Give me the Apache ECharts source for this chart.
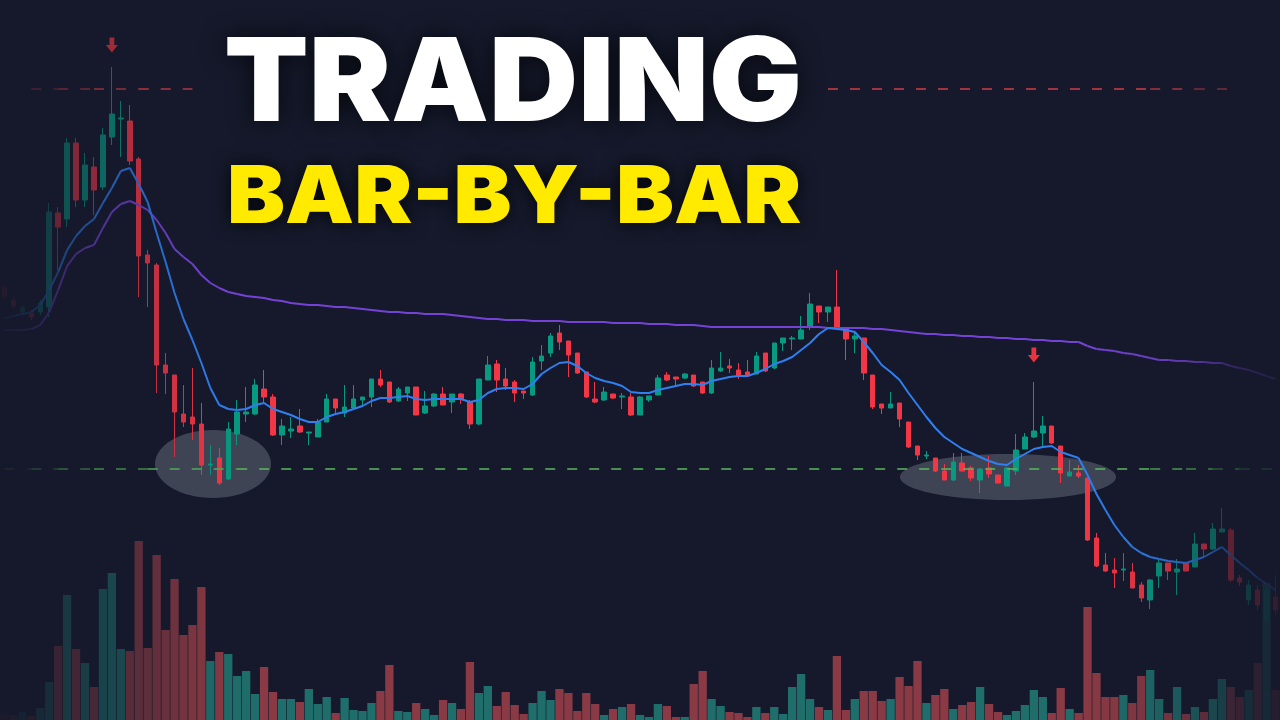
<!DOCTYPE html>
<html>
<head>
<meta charset="utf-8">
<script src="https://cdn.jsdelivr.net/npm/echarts@6/dist/echarts.min.js"></script>
<style>
html,body{margin:0;padding:0;background:#15192b;overflow:hidden;}
#chart{width:1280px;height:720px;}
</style>
</head>
<body>
<div id="chart"></div>
<script>
// Candles: [open, close, low, high] (price units)
const candles = [
[433,423,420,436],[420,414,411,423],[408,412,405,415],[407,403,400,410],[408,417,405,420],
[413,508,403,517],[507,493,450,513],[501,577,493,582],[577,520,513,582],[520,555,513,567],
[553,530,505,563],[533,585,530,592],[583,606,575,653],[601,602,563,619],[599,559,555,615],
[561,464,423,563],[465,457,413,470],[455,355,327,457],[355,347,326,367],[345,308,263,345],
[306,298,293,335],[303,296,280,352],[296,255,245,317],[255,256,245,275],[262,237,235,272],
[241,291,240,298],[286,308,275,320],[306,308,298,333],[306,335,305,341],[331,323,318,350],
[323,285,284,326],[285,294,275,301],[289,291,282,303],[294,288,287,311],[287,288,275,288],
[283,298,283,301],[298,321,298,326],[321,312,305,321],[307,313,303,335],[312,321,310,335],
[320,323,315,323],[323,341,313,341],[341,335,333,350],[338,318,317,338],[319,331,318,333],
[327,333,319,333],[333,305,305,333],[307,314,306,329],[314,326,313,327],[326,315,315,333],
[318,326,307,326],[326,321,316,327],[318,296,291,320],[296,341,295,341],[340,355,340,364],
[356,340,328,360],[341,334,330,352],[338,327,318,340],[329,327,321,329],[325,358,324,363],
[359,364,350,375],[367,384,363,387],[387,378,370,395],[379,365,343,379],[367,347,346,367],
[348,323,322,348],[321,318,317,338],[320,328,319,333],[326,322,321,326],[323,324,311,327],
[323,305,304,327],[305,323,305,324],[320,324,318,324],[325,342,325,345],[345,340,339,348],
[343,341,334,343],[342,346,341,347],[345,334,333,345],[338,327,326,338],[327,352,326,360],
[349,352,348,368],[354,352,347,361],[350,344,341,357],[348,344,344,360],[346,364,346,368],
[367,349,348,367],[352,377,351,377],[377,382,369,382],[381,382,370,384],[381,390,381,404],
[393,416,390,427],[414,408,397,414],[408,413,398,413],[413,393,392,450],[391,381,360,391],
[381,384,367,387],[382,347,340,382],[345,313,311,345],[316,312,306,316],[312,316,312,328],
[317,301,293,317],[298,273,272,298],[274,265,260,274],[264,265,261,269],[262,249,248,262],
[249,240,240,256],[240,258,239,267],[257,249,249,267],[252,242,239,254],[240,251,227,252],
[252,246,242,264],[245,237,237,245],[234,252,234,253],[249,270,245,286],[271,283,271,287],
[283,289,282,338],[287,294,274,304],[294,277,276,294],[274,247,237,274],[244,248,244,260],
[247,244,242,255],[242,180,179,242],[182,154,153,187],[155,149,148,167],[150,147,132,162],
[150,151,139,167],[148,132,132,157],[135,122,118,138],[120,140,111,141],[144,157,132,160],
[157,149,140,157],[148,151,125,161],[157,149,149,158],[153,176,153,187],[176,171,163,176],
[171,191,170,197],[188,191,188,212],[190,140,138,192],[142,138,134,145],[120,135,115,140],
[130,115,110,135],[100,130,95,135],[123,110,105,145]
];

const volumes = [
6,5,8,4,12,38,74,125,71,57,33,131,147,71,69,179,72,165,90,141,
85,95,133,59,68,66,44,49,26,53,28,21,21,18,31,16,23,7,22,10,
9,17,29,55,9,8,17,11,5,20,17,11,58,27,34,14,28,15,6,17,
29,20,31,27,9,27,16,5,11,13,16,5,3,16,14,3,3,36,49,21,
14,8,7,3,13,7,13,6,33,46,21,13,10,64,10,21,29,29,19,21,
43,34,59,17,25,31,11,15,18,33,16,8,5,9,15,30,23,7,32,11,
7,113,47,23,23,25,17,44,50,21,7,33,6,13,8,21,41,33,23,30,
57,137,30
];

// Fast moving average (blue)
const fastMA = [
402,404,406,408,415,430,448,470,484,494,501,517,532,549,552,536,518,487,458,427,
401,380,357,332,315,311,310,311,315,317,311,308,305,301,298,298,303,306,308,311,
314,319,322,322,323,324,321,320,321,321,321,321,318,320,327,331,332,332,331,336,
346,352,357,358,354,347,342,339,337,334,328,327,327,330,332,334,336,336,335,339,
341,343,344,344,347,351,356,359,363,370,377,386,392,391,390,388,378,367,355,348,
340,327,315,303,292,283,277,271,267,263,259,256,255,261,266,271,273,274,268,265,
262,245,226,210,195,183,173,167,163,161,159,158,157,160,163,168,173,165,157,150,
142,136,130
];

// Slow moving average (purple)
const slowMA = [
390,390,390,391,395,408,430,454,466,472,475,492,508,516,519,515,510,500,487,471,
463,456,445,437,432,428,426,424,423,422,420,419,417,416,415,415,414,413,413,412,
411,410,409,408,408,407,407,406,406,406,405,404,403,402,401,401,400,400,400,399,
399,399,399,398,398,398,398,398,397,397,397,397,396,396,396,395,395,395,394,393,
393,393,393,393,393,393,393,393,393,393,393,393,392,392,392,392,392,391,391,390,
389,388,387,386,386,385,385,384,384,383,383,382,382,381,381,380,380,379,379,378,
378,374,371,370,369,367,366,364,362,360,360,359,359,358,358,357,357,354,352,350,
347,344,341
];

const supportLevel = 251;     // green dashed
const resistanceLevel = 631;  // red dashed
const signalBars = [12, 115]; // bars marked with red arrows
const signalPrices = [675, 365];

const categories = candles.map((_, i) => 'Bar ' + (i + 1));

// ---- styling ----
const UP = '#089981', DOWN = '#f23645';
const VOL_UP = '#1f6e6b', VOL_DOWN = '#8a3a44';
const BG = '#15192b';
const step = 8.977;
const gridLeft = 3 - step / 2;
const gridWidth = step * candles.length;

// edge vignette (visibility vs. screen x), a styling profile
const edgeVis = [[0,0.06],[30,0.15],[48,0.3],[66,0.45],[93,0.55],[111,0.66],[138,0.74],[174,0.85],
  [202,0.93],[240,1],[1080,1],[1150,0.88],[1188,0.72],[1206,0.6],[1215,0.54],[1233,0.32],[1260,0.2],[1280,0.14]];
const volExtraVis = [[0,0.8],[138,0.8],[200,0.97],[260,1],[1280,1]];
function edgeProfile(stops, x) {
  if (x <= stops[0][0]) return stops[0][1];
  for (let k = 1; k < stops.length; k++) {
    if (x <= stops[k][0]) {
      const x0 = stops[k - 1][0], a0 = stops[k - 1][1];
      const x1 = stops[k][0], a1 = stops[k][1];
      return a0 + (a1 - a0) * (x - x0) / (x1 - x0);
    }
  }
  return stops[stops.length - 1][1];
}
const xOf = i => 3 + step * i;
const vis = i => edgeProfile(edgeVis, xOf(i));
function hexRgb(h) { return [1, 3, 5].map(p => parseInt(h.substr(p, 2), 16)); }
const BG_RGB = hexRgb(BG);
// blend a colour toward the background (opaque result)
function mix(hex, t) {
  const c = hexRgb(hex);
  const r = c.map((v, k) => Math.round(BG_RGB[k] + (v - BG_RGB[k]) * t));
  return 'rgb(' + r.join(',') + ')';
}
const isUp = c => c[1] >= c[0];

function fadedLine(values, color, z) {
  const out = [];
  const lo = 26, hi = 120;
  out.push({
    type: 'line', xAxisIndex: 0, yAxisIndex: 0, z, showSymbol: false, silent: true,
    data: values.map((v, j) => (j >= lo && j <= hi) ? v : null),
    lineStyle: {color, width: 2}
  });
  for (let i = 0; i < values.length - 1; i++) {
    if (i >= lo && i < hi) continue;
    out.push({
      type: 'line', xAxisIndex: 0, yAxisIndex: 0, z, showSymbol: false, silent: true,
      data: values.map((v, j) => (j === i || j === i + 1) ? v : null),
      lineStyle: {color: mix(color, vis(i + 0.5)), width: 2}
    });
  }
  return out;
}

function dashedSeg(a, b, value, color) {
  const ls = {color: mix(color, vis((a + b) / 2)), width: 1.5, type: [10, 12]};
  return [{coord: [a, value], lineStyle: ls}, {coord: [b, value]}];
}
const GREEN_DASH = '#58b85e', RED_DASH = '#cf3d4a';
const markLines = [
  dashedSeg(0, 3, supportLevel, GREEN_DASH), dashedSeg(3, 6, supportLevel, GREEN_DASH),
  dashedSeg(6, 10, supportLevel, GREEN_DASH), dashedSeg(10, 16, supportLevel, GREEN_DASH),
  dashedSeg(16, 26, supportLevel, GREEN_DASH), dashedSeg(26, 128, supportLevel, GREEN_DASH),
  dashedSeg(128, 132, supportLevel, GREEN_DASH), dashedSeg(132, 135, supportLevel, GREEN_DASH),
  dashedSeg(135, 138, supportLevel, GREEN_DASH), dashedSeg(138, 142, supportLevel, GREEN_DASH),
  dashedSeg(3, 6, resistanceLevel, RED_DASH), dashedSeg(6, 10, resistanceLevel, RED_DASH),
  dashedSeg(10, 15, resistanceLevel, RED_DASH), dashedSeg(15, 21, resistanceLevel, RED_DASH),
  dashedSeg(92, 128, resistanceLevel, RED_DASH), dashedSeg(128, 133, resistanceLevel, RED_DASH),
  dashedSeg(133, 137, resistanceLevel, RED_DASH)
];

const chart = echarts.init(document.getElementById('chart'), null, {renderer: 'canvas'});
const arrowPath = 'path://M3,0 L7,0 L7,6 L10,6 L5,12 L0,6 L3,6 Z';

const option = {
  backgroundColor: BG,
  animation: false,
  grid: [
    {left: gridLeft, width: gridWidth, top: 0, height: 720},
    {left: gridLeft, width: gridWidth, top: 520, height: 200}
  ],
  xAxis: [
    {type: 'category', data: categories, gridIndex: 0, boundaryGap: true, show: false},
    {type: 'category', data: categories, gridIndex: 1, boundaryGap: true, show: false}
  ],
  yAxis: [
    {type: 'value', gridIndex: 0, min: 0, max: 720, show: false, splitLine: {show: false}},
    {type: 'value', gridIndex: 1, min: 0, max: 200, show: false, splitLine: {show: false}}
  ],
  series: [
    {
      type: 'bar', xAxisIndex: 1, yAxisIndex: 1, z: 1, silent: true,
      barCategoryGap: '7%',
      data: volumes.map((v, i) => ({
        value: v,
        itemStyle: {
          color: mix(isUp(candles[i]) ? VOL_UP : VOL_DOWN,
                     vis(i) * edgeProfile(volExtraVis, xOf(i)))
        }
      }))
    },
    {
      type: 'candlestick', xAxisIndex: 0, yAxisIndex: 0, z: 3, silent: true,
      barWidth: 5,
      data: candles.map((c, i) => {
        const col = mix(isUp(c) ? UP : DOWN, vis(i));
        return {value: c, itemStyle: {color: col, color0: col, borderColor: col, borderColor0: col}};
      }),
      itemStyle: {color: UP, color0: DOWN, borderColor: UP, borderColor0: DOWN, borderWidth: 1},
      markLine: {
        silent: true, symbol: 'none', animation: false,
        label: {show: false},
        data: markLines
      },
      markPoint: {
        silent: true, animation: false,
        symbol: arrowPath, symbolSize: [12, 15],
        label: {show: false},
        data: signalBars.map((b, k) => ({
          coord: [b, signalPrices[k]],
          itemStyle: {color: mix('#e8343f', vis(b))}
        }))
      }
    },
    ...fadedLine(slowMA, '#7443d6', 4),
    ...fadedLine(fastMA, '#2f7ff0', 5)
  ],
  graphic: [
    {type: 'ellipse', z: 0, silent: true, shape: {cx: 213, cy: 464, rx: 58, ry: 34},
     style: {fill: 'rgba(200,203,218,0.24)'}},
    {type: 'ellipse', z: 0, silent: true, shape: {cx: 1008, cy: 477, rx: 108, ry: 23},
     style: {fill: 'rgba(200,203,218,0.24)'}},
    {type: 'text', z: 100, silent: true, x: 224, y: 86, scaleX: 1.063,
     style: {text: 'TRADING', fill: '#ffffff', font: '900 116px Inter',
             textAlign: 'left', textVerticalAlign: 'middle', verticalAlign: 'middle',
             textShadowColor: 'rgba(0,0,0,0.7)', textShadowBlur: 24,
             shadowColor: 'rgba(0,0,0,0.7)', shadowBlur: 24}},
    {type: 'text', z: 100, silent: true, x: 227, y: 199, scaleX: 1.087,
     style: {text: 'BAR-BY-BAR', fill: '#ffea00', font: '900 80px Inter',
             textAlign: 'left', textVerticalAlign: 'middle', verticalAlign: 'middle',
             textShadowColor: 'rgba(0,0,0,0.8)', textShadowBlur: 18,
             shadowColor: 'rgba(0,0,0,0.8)', shadowBlur: 18}}
  ]
};
chart.setOption(option);
</script>
</body>
</html>
